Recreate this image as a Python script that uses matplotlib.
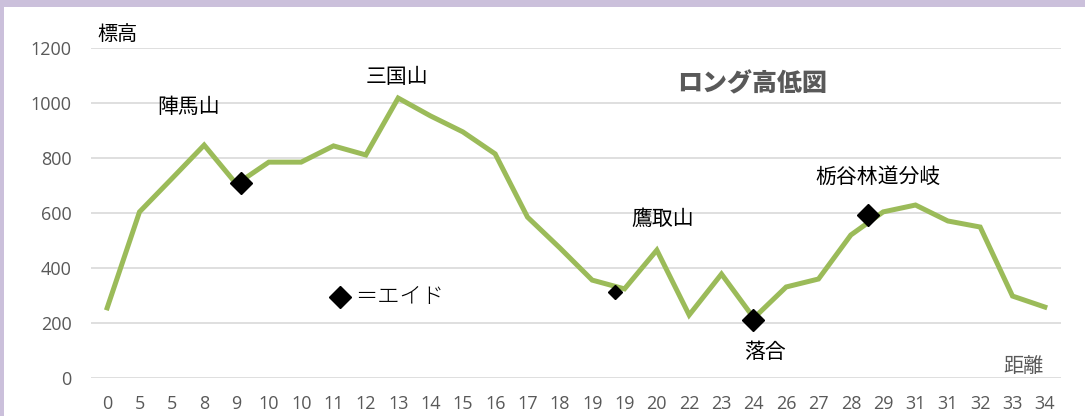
import matplotlib
matplotlib.use("Agg")
import matplotlib.pyplot as plt
from matplotlib.patches import Rectangle

plt.rcParams['font.family'] = ['Noto Sans CJK JP', 'DejaVu Sans']

# ---- data ----
distance_labels = ["0", "5", "5", "8", "9", "10", "10", "11", "12", "13", "14", "15",
                   "16", "17", "18", "19", "19", "20", "22", "23", "24", "26", "27",
                   "28", "29", "31", "31", "32", "33", "34"]
elevation = [255, 604, 725, 847, 705, 785, 785, 844, 811, 1018, 953, 895,
             815, 585, 473, 356, 324, 465, 229, 378, 218, 331, 360,
             520, 604, 629, 571, 549, 298, 258]
aid_pos = [4.15, 15.7, 19.97, 23.53]
aid_elev = [709, 313, 211, 593]
aid_size = [11.0, 7.6, 11.0, 11.0]
y_ticks = [0, 200, 400, 600, 800, 1000, 1200]

W, H = 1085, 416
fig = plt.figure(figsize=(W / 100, H / 100), dpi=100)
fig.patch.set_facecolor("white")

# purple frame
fig.patches.append(Rectangle((0, 1 - 7 / H), 1, 7 / H, transform=fig.transFigure,
                             facecolor="#CBC0DB", edgecolor="none", zorder=0))
fig.patches.append(Rectangle((0, 0), 4 / W, 1, transform=fig.transFigure,
                             facecolor="#CBC0DB", edgecolor="none", zorder=0))

left, right, top, bottom = 91, 1061, 48, 378
ax = fig.add_axes([left / W, (H - bottom) / H, (right - left) / W, (bottom - top) / H])
ax.set_facecolor("none")

x = list(range(len(elevation)))
ax.plot(x, elevation, color="#9BBB59", lw=3.6, solid_joinstyle="miter", zorder=3)
for px, py, ms in zip(aid_pos, aid_elev, aid_size):
    ax.plot([px], [py], marker="D", color="black", markersize=ms, ls="none", zorder=4)

ax.set_xlim(-0.5, len(elevation) - 0.5)
ax.set_ylim(0, 1200)
ax.set_yticks(y_ticks)
ax.set_xticks(x)
ax.set_xticklabels(distance_labels)
ax.grid(axis="y", color="#D9D9D9", lw=1.2)
ax.set_axisbelow(True)
for s in ax.spines.values():
    s.set_visible(False)
ax.tick_params(axis="both", length=0, labelcolor="#595959")
ax.tick_params(axis="x", pad=12.5)
ax.tick_params(axis="y", pad=14)
for lab in ax.get_xticklabels() + ax.get_yticklabels():
    lab.set_fontfamily(["Open Sans", "DejaVu Sans"])
    lab.set_fontsize(13)

def ftext(px, py, s, **kw):
    fig.text(px / W, 1 - py / H, s, ha="center", va="center", **kw)

ftext(118, 35, "標高", fontsize=14.5, color="black")
ftext(189, 107, "陣馬山", fontsize=15, color="black")
ftext(397, 77, "三国山", fontsize=15, color="black")
ftext(663, 219, "鷹取山", fontsize=15, color="black")
ftext(765, 352, "落合", fontsize=15, color="black")
ftext(878, 177, "栃谷林道分岐", fontsize=15, color="black")
ftext(1023, 367, "距離", fontsize=14.5, color="#595959")
ftext(752, 83, "ロング高低図", fontsize=18, color="#595959", fontweight="heavy")

# legend for aid stations
leg_x, leg_y = 340, 297
fig.lines.append(plt.Line2D([leg_x / W], [1 - leg_y / H], transform=fig.transFigure,
                            marker="D", color="black", markersize=11.5, ls="none"))
fig.text(355 / W, 1 - leg_y / H, "＝エイド", ha="left", va="center",
         fontsize=16, color="black", fontweight="light")

fig.savefig("out.png", dpi=100, facecolor="white")
